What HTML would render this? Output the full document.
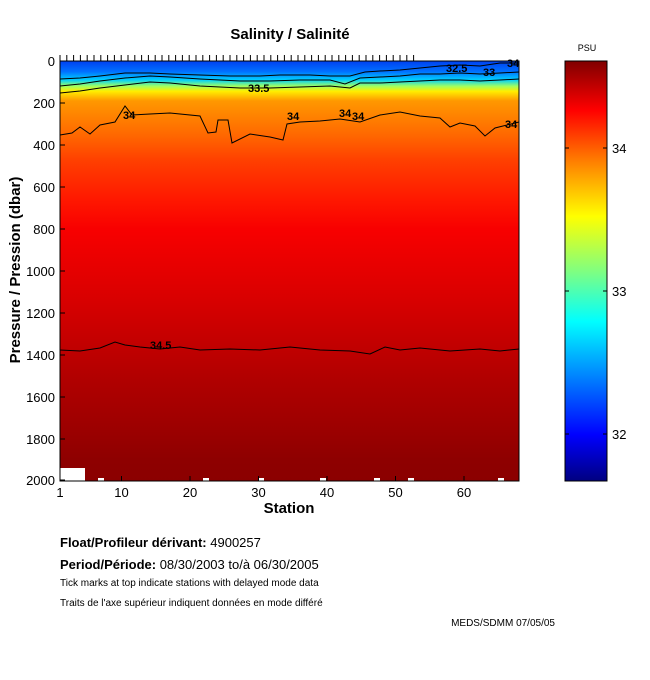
<!DOCTYPE html>
<html><head><meta charset="utf-8"><style>
body{margin:0;background:#fff;}
svg{display:block;font-family:"Liberation Sans",sans-serif;}
</style></head><body>
<svg width="650" height="680" viewBox="0 0 650 680">
<defs>
<linearGradient id="cb" x1="0" y1="0" x2="0" y2="1">
<stop offset="0" stop-color="#800000"/>
<stop offset="0.117" stop-color="#ff0000"/>
<stop offset="0.24" stop-color="#ff8000"/>
<stop offset="0.37" stop-color="#ffff00"/>
<stop offset="0.5" stop-color="#80ff80"/>
<stop offset="0.62" stop-color="#00ffff"/>
<stop offset="0.89" stop-color="#0000ff"/>
<stop offset="1" stop-color="#000080"/>
</linearGradient>
<linearGradient id="pl" x1="0" y1="0" x2="0" y2="1">
<stop offset="0" stop-color="#0040f0"/>
<stop offset="0.025" stop-color="#0070ff"/>
<stop offset="0.045" stop-color="#00d0ff"/>
<stop offset="0.06" stop-color="#a0ff60"/>
<stop offset="0.072" stop-color="#ffee00"/>
<stop offset="0.095" stop-color="#ff9800"/>
<stop offset="0.176" stop-color="#ff6800"/>
<stop offset="0.236" stop-color="#ff4000"/>
<stop offset="0.33" stop-color="#ff1800"/>
<stop offset="0.40" stop-color="#f80000"/>
<stop offset="0.57" stop-color="#d80000"/>
<stop offset="0.76" stop-color="#b00000"/>
<stop offset="0.855" stop-color="#a00000"/>
<stop offset="0.95" stop-color="#8e0000"/>
<stop offset="1" stop-color="#8b0000"/>
</linearGradient>
</defs>
<text x="290" y="39" font-size="15" font-weight="bold" text-anchor="middle">Salinity / Salinité</text>
<rect x="60" y="61" width="459" height="420" fill="url(#pl)"/>
<rect x="60" y="468" width="25" height="13" fill="#fff"/>
<g fill="#fff"><rect x="98" y="478" width="6" height="3"/><rect x="203" y="478" width="6" height="3"/><rect x="258" y="478" width="6" height="3"/><rect x="320" y="478" width="6" height="3"/><rect x="374" y="478" width="6" height="3"/><rect x="408" y="478" width="6" height="3"/><rect x="498" y="478" width="6" height="3"/></g>
<g fill="none" stroke="#000" stroke-width="1">
<polyline points="60,79 80,78 100,76 125,73 150,73 170,74 200,75 230,76 260,76 280,75 310,75 330,76 350,76 365,72 380,71 400,70 420,68 440,66 460,65 480,66 500,63 519,63"/>
<polyline points="60,86 80,84 100,81 125,78 150,76 170,77 200,79 240,81 270,81 300,80 330,80 345,84 360,78 380,77 400,76 420,74 440,74 460,73 480,74 500,73 519,72"/>
<polyline points="60,93 80,91 100,88 125,85 150,82 170,83 200,86 240,88 270,88 300,87 330,86 350,88 360,83 380,83 400,82 420,81 440,80 460,80 480,81 500,80 519,79"/>
<polyline points="60,135 72,133 80,127 90,134 100,125 115,122 125,106 132,115 150,114 170,113 200,116 208,133 216,132 218,120 228,120 232,143 250,134 270,137 283,140 287,124 300,122 320,121 340,119 360,122 380,115 400,112 420,116 440,118 450,127 460,123 475,126 485,136 495,128 519,122"/>
<polyline points="60,350 80,351 100,348 115,342 125,345 140,347 160,349 180,347 200,350 230,349 260,350 290,347 320,350 350,351 370,354 385,347 400,350 420,348 450,351 480,349 500,351 519,349"/>
</g>
<g font-size="11" font-weight="bold">
<text x="123" y="119">34</text><text x="248" y="92">33.5</text><text x="287" y="120">34</text><text x="339" y="117">34</text><text x="352" y="120">34</text><text x="446" y="72">32.5</text><text x="483" y="76">33</text><text x="507" y="67">34</text><text x="505" y="128">34</text><text x="150" y="349">34.5</text>
</g>
<rect x="60" y="61" width="459" height="420" fill="none" stroke="#000"/>
<g stroke="#000">
<path d="M60,61v-6M66.8,61v-6M73.6,61v-6M80.4,61v-6M87.2,61v-6M94,61v-6M100.8,61v-6M107.6,61v-6M114.4,61v-6M121.2,61v-6M128,61v-6M134.8,61v-6M141.6,61v-6M148.4,61v-6M155.2,61v-6M162,61v-6M168.8,61v-6M175.6,61v-6M182.4,61v-6M189.2,61v-6M196,61v-6M202.8,61v-6M209.6,61v-6M216.4,61v-6M223.2,61v-6M230,61v-6M236.8,61v-6M243.6,61v-6M250.4,61v-6M257.2,61v-6M264,61v-6M270.8,61v-6M277.6,61v-6M284.4,61v-6M291.2,61v-6M298,61v-6M304.8,61v-6M311.6,61v-6M318.4,61v-6M325.2,61v-6M332,61v-6M338.8,61v-6M345.6,61v-6M352.4,61v-6M359.2,61v-6M366,61v-6M372.8,61v-6M379.6,61v-6M386.4,61v-6M393.2,61v-6M400,61v-6M406.8,61v-6M413.6,61v-6"/>
<path d="M121.5,481v-5M190,481v-5M258.5,481v-5M327,481v-5M395.5,481v-5M464,481v-5"/>
<path d="M60,61h5M60,103h5M60,145h5M60,187h5M60,229h5M60,271h5M60,313h5M60,355h5M60,397h5M60,439h5M60,480h5"/>
</g>
<g font-size="13" text-anchor="end">
<text x="55" y="66">0</text><text x="55" y="108">200</text><text x="55" y="150">400</text><text x="55" y="192">600</text><text x="55" y="234">800</text><text x="55" y="276">1000</text><text x="55" y="318">1200</text><text x="55" y="360">1400</text><text x="55" y="402">1600</text><text x="55" y="444">1800</text><text x="55" y="485">2000</text>
</g>
<g font-size="13" text-anchor="middle">
<text x="60" y="497">1</text><text x="121.5" y="497">10</text><text x="190" y="497">20</text><text x="258.5" y="497">30</text><text x="327" y="497">40</text><text x="395.5" y="497">50</text><text x="464" y="497">60</text>
</g>
<text x="289" y="513" font-size="15" font-weight="bold" text-anchor="middle">Station</text>
<text transform="translate(20,270) rotate(-90)" font-size="15" font-weight="bold" text-anchor="middle">Pressure / Pression (dbar)</text>
<rect x="565" y="61" width="42" height="420" fill="url(#cb)" stroke="#000"/>
<g stroke="#000"><path d="M565,148h4M603,148h4M565,291h4M603,291h4M565,434h4M603,434h4"/></g>
<g font-size="13"><text x="612" y="153">34</text><text x="612" y="296">33</text><text x="612" y="439">32</text></g>
<text x="587" y="51" font-size="9" text-anchor="middle">PSU</text>
<text x="60" y="547" font-size="13"><tspan font-weight="bold">Float/Profileur dérivant:</tspan> 4900257</text>
<text x="60" y="569" font-size="13"><tspan font-weight="bold">Period/Période:</tspan> 08/30/2003  to/à  06/30/2005</text>
<text x="60" y="586" font-size="10">Tick marks at top indicate stations with delayed mode data</text>
<text x="60" y="606" font-size="10">Traits de l'axe supérieur indiquent données en mode différé</text>
<text x="555" y="626" font-size="10" text-anchor="end">MEDS/SDMM  07/05/05</text>
</svg>
</body></html>
